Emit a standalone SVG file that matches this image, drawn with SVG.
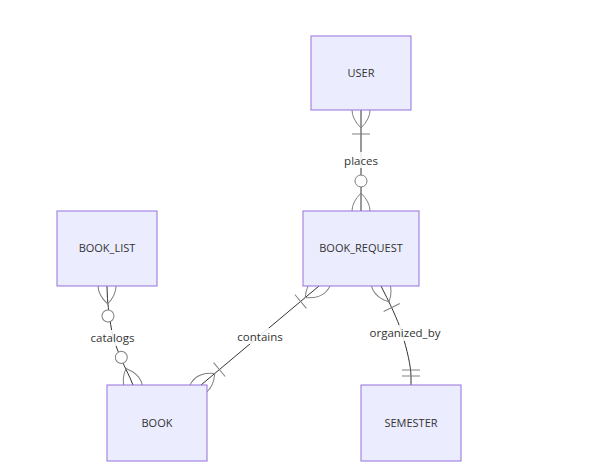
<svg xmlns="http://www.w3.org/2000/svg" width="599" height="467" viewBox="0 0 599 467">
<style>
.entity rect{fill:#ECECFF;stroke:#9370DB;stroke-width:1}
.entity text{font-family:"Open Sans","Noto Sans",sans-serif;font-size:11px;fill:#333;text-anchor:middle}
.rel{fill:none;stroke:#333;stroke-width:1}
.mk{fill:none;stroke:gray;stroke-width:1}
.mkc{fill:#fff;stroke:gray;stroke-width:1}
.lblbox{fill:#fff;opacity:0.85}
.lbl{font-family:"Open Sans","Noto Sans",sans-serif;font-size:11.5px;fill:#333;text-anchor:middle}
</style>
<defs>
<marker id="oneOrMoreStart" markerUnits="userSpaceOnUse" refX="18" refY="18" markerWidth="45" markerHeight="36" orient="auto"><path class="mk" d="M0,18 Q18,0 36,18 Q18,36 0,18 M42,9 L42,27"/></marker>
<marker id="oneOrMoreEnd" markerUnits="userSpaceOnUse" refX="27" refY="18" markerWidth="45" markerHeight="36" orient="auto"><path class="mk" d="M3,9 L3,27 M9,18 Q27,0 45,18 Q27,36 9,18"/></marker>
<marker id="zeroOrMoreStart" markerUnits="userSpaceOnUse" refX="18" refY="18" markerWidth="57" markerHeight="36" orient="auto"><circle class="mkc" cx="48" cy="18" r="6"/><path class="mk" d="M0,18 Q18,0 36,18 Q18,36 0,18"/></marker>
<marker id="zeroOrMoreEnd" markerUnits="userSpaceOnUse" refX="39" refY="18" markerWidth="57" markerHeight="36" orient="auto"><circle class="mkc" cx="9" cy="18" r="6"/><path class="mk" d="M21,18 Q39,0 57,18 Q39,36 21,18"/></marker>
<marker id="onlyOneEnd" markerUnits="userSpaceOnUse" refX="18" refY="9" markerWidth="18" markerHeight="18" orient="auto"><path class="mk" d="M3,0 L3,18 M9,0 L9,18"/></marker>
</defs>
<g id="connectors">
<path class="rel" d="M361,110 L361,211" marker-start="url(#oneOrMoreStart)" marker-end="url(#zeroOrMoreEnd)"/>
<path class="rel" d="M107,286 L107.3,295 C107.6,303.3 109.5,320.7 113,336.7 C118,353.7 126,369.3 129.7,377.2 L133,385" marker-start="url(#zeroOrMoreStart)" marker-end="url(#zeroOrMoreEnd)"/>
<path class="rel" d="M319,286 L201,385" marker-start="url(#oneOrMoreStart)" marker-end="url(#oneOrMoreEnd)"/>
<path class="rel" d="M381,286 L385,294 C389,302 397,318 402,333 C407,350 411,366 411,377 L411,385" marker-start="url(#oneOrMoreStart)" marker-end="url(#onlyOneEnd)"/>
<rect class="lblbox" x="343" y="152" width="36" height="16"/>
<text class="lbl" x="361" y="164.5">places</text>
<rect class="lblbox" x="90" y="330" width="46" height="16"/>
<text class="lbl" x="112.5" y="341.5">catalogs</text>
<rect class="lblbox" x="237" y="328" width="46" height="16"/>
<text class="lbl" x="260" y="340.5">contains</text>
<rect class="lblbox" x="369" y="325" width="72" height="16"/>
<text class="lbl" x="405" y="337">organized_by</text>
</g>
<g id="USER" class="entity"><rect x="311" y="36" width="100" height="74"/><text x="361" y="77">USER</text></g>
<g id="BOOK_REQUEST" class="entity"><rect x="303" y="211" width="116" height="75"/><text x="361" y="252">BOOK_REQUEST</text></g>
<g id="BOOK_LIST" class="entity"><rect x="57" y="211" width="100" height="75"/><text x="107" y="252">BOOK_LIST</text></g>
<g id="BOOK" class="entity"><rect x="107" y="385" width="100" height="76"/><text x="157" y="427">BOOK</text></g>
<g id="SEMESTER" class="entity"><rect x="361" y="385" width="100" height="76"/><text x="411" y="427">SEMESTER</text></g>
</svg>
